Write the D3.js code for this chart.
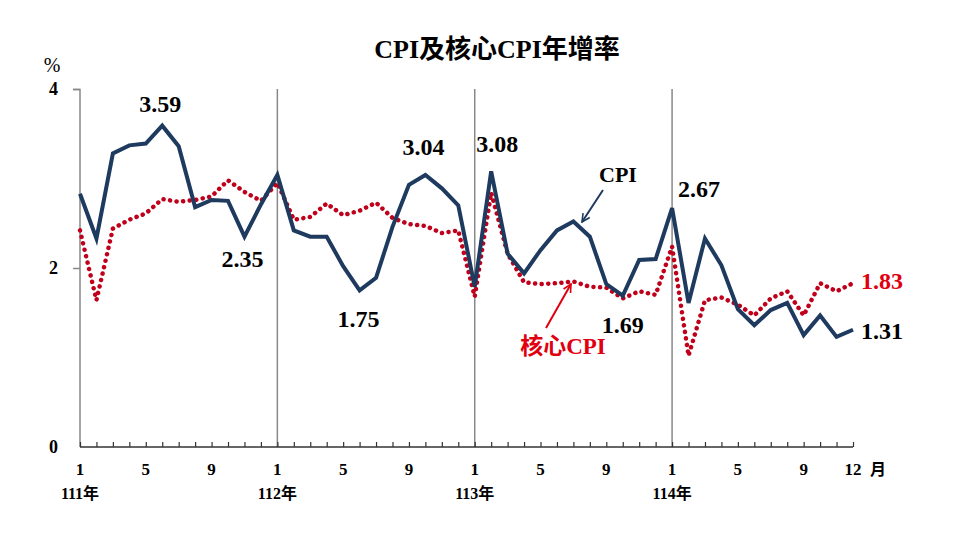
<!DOCTYPE html>
<html><head><meta charset="utf-8">
<script src="https://cdn.jsdelivr.net/npm/d3@7"></script>
<style>body{margin:0;background:#fff}</style>
</head><body>
<svg id="c" width="960" height="539"></svg>
<script>
const years = ["111年","112年","113年","114年"];
const monthTicks = [1,5,9];
const yTicks = [0,2,4];
const cpi = [2.83,2.33,3.28,3.37,3.39,3.59,3.36,2.68,2.76,2.75,2.35,2.71,
             3.04,2.42,2.35,2.35,2.02,1.75,1.89,2.46,2.93,3.04,2.89,2.70,
             1.79,3.08,2.16,1.94,2.20,2.42,2.52,2.35,1.82,1.69,2.09,2.10,
             2.67,1.61,2.33,2.03,1.54,1.36,1.53,1.61,1.25,1.47,1.23,1.31];
const core = [2.42,1.64,2.44,2.54,2.61,2.77,2.74,2.76,2.80,2.98,2.85,2.75,
              2.95,2.54,2.57,2.72,2.59,2.64,2.73,2.56,2.49,2.47,2.39,2.42,
              1.68,2.84,2.16,1.84,1.82,1.83,1.85,1.79,1.78,1.66,1.74,1.70,
              2.24,1.02,1.64,1.67,1.59,1.47,1.66,1.74,1.47,1.83,1.74,1.83];
const labels = [
  {i:5, v:"3.59", dx:-2, dy:-14},
  {i:10, v:"2.35", dx:-2, dy:30},
  {i:17, v:"1.75", dx:-1, dy:37},
  {i:21, v:"3.04", dx:-2, dy:-20},
  {i:25, v:"3.08", dx:6, dy:-19},
  {i:33, v:"1.69", dx:0, dy:37},
  {i:36, v:"2.67", dx:27, dy:-11}
];
const serif = "'Liberation Serif','Times New Roman','Noto Sans CJK TC',serif";
const svg = d3.select("#c");
const n = cpi.length;
const x = d3.scaleLinear().domain([0, n-1]).range([80, 853]);
const y = d3.scaleLinear().domain([0, 4]).range([447, 89]);

// title
svg.append("text").attr("x",497).attr("y",58).attr("text-anchor","middle")
  .attr("font-family",serif).attr("font-weight","bold").attr("font-size",26).text("CPI及核心CPI年增率");
svg.append("text").attr("x",52).attr("y",72).attr("text-anchor","middle")
  .attr("font-family",serif).attr("font-size",20).text("%");

// y axis
const ya = svg.append("g").attr("transform","translate(80,0)")
  .call(d3.axisLeft(y).tickValues(yTicks).tickSize(7).tickFormat(d3.format("d")));
ya.select(".domain").attr("stroke","#888").attr("stroke-width",1.5).attr("d","M-7,89.5H0V447");
ya.selectAll(".tick line").attr("stroke","#888").attr("stroke-width",1.5);
ya.selectAll(".tick").filter(d=>d===0).select("line").remove();
ya.selectAll(".tick text").attr("font-family",serif).attr("font-weight","bold").attr("font-size",18)
  .attr("fill","#000").attr("x",-22).attr("dy","0.33em");

// year separators
svg.selectAll(".yr").data([12,24,36]).join("line").attr("class","yr")
  .attr("x1",d=>x(d)).attr("x2",d=>x(d)).attr("y1",89).attr("y2",447)
  .attr("stroke","#888").attr("stroke-width",1.5);

// x axis
const xa = svg.append("g").attr("transform","translate(0,447)")
  .call(d3.axisTop(x).tickValues(d3.range(n)).tickSize(5).tickFormat(""));
xa.select(".domain").attr("stroke","#333").attr("stroke-width",1.5).attr("d","M80,0H853");
xa.selectAll(".tick line").attr("stroke","#333").attr("stroke-width",1.2);

const xl = svg.append("g");
const idxLabels = [];
years.forEach((yy,k)=>{ monthTicks.forEach(m=>idxLabels.push({i:k*12+m-1, t:String(m)})); });
idxLabels.push({i:n-1, t:"12"});
xl.selectAll(".ml").data(idxLabels).join("text").attr("class","ml")
  .attr("x",d=>x(d.i)).attr("y",475).attr("text-anchor","middle")
  .attr("font-family",serif).attr("font-weight","bold").attr("font-size",17).text(d=>d.t);
xl.selectAll(".yl").data(years).join("text").attr("class","yl")
  .attr("x",(d,k)=>x(k*12)).attr("y",499).attr("text-anchor","middle")
  .attr("font-family",serif).attr("font-weight","bold").attr("font-size",16).text(d=>d);
xl.append("text").attr("x",878).attr("y",475).attr("text-anchor","middle")
  .attr("font-family",serif).attr("font-weight","bold").attr("font-size",16).text("月");

// lines
const line = d3.line().x((d,i)=>x(i)).y(d=>y(d));
svg.append("path").datum(core).attr("d",line).attr("fill","none")
  .attr("stroke","#C0001A").attr("stroke-width",4.5).attr("stroke-linecap","round")
  .attr("stroke-dasharray","0.1 6.5");
svg.append("path").datum(cpi).attr("d",line).attr("fill","none")
  .attr("stroke","#1F3A5F").attr("stroke-width",4).attr("stroke-linejoin","miter");

// value labels
svg.selectAll(".vl").data(labels).join("text").attr("class","vl")
  .attr("x",d=>x(d.i)+d.dx).attr("y",d=>y(cpi[d.i])+d.dy).attr("text-anchor","middle")
  .attr("font-family",serif).attr("font-weight","bold").attr("font-size",24).attr("fill","#000").text(d=>d.v);
svg.append("text").attr("x",x(n-1)+8).attr("y",y(cpi[n-1])+9).attr("font-family",serif)
  .attr("font-weight","bold").attr("font-size",24).attr("fill","#000").text("1.31");
svg.append("text").attr("x",x(n-1)+8).attr("y",y(core[n-1])+6).attr("font-family",serif)
  .attr("font-weight","bold").attr("font-size",24).attr("fill","#E00010").text("1.83");

// annotations
svg.append("text").attr("x",618).attr("y",182).attr("text-anchor","middle").attr("font-family",serif)
  .attr("font-weight","bold").attr("font-size",22).attr("fill","#000").text("CPI");
svg.append("text").attr("x",563).attr("y",354).attr("text-anchor","middle").attr("font-family",serif)
  .attr("font-weight","bold").attr("font-size",23).attr("fill","#E00010").text("核心CPI");

const defs = svg.append("defs");
function marker(id,color){
  defs.append("marker").attr("id",id).attr("viewBox","0 0 10 10").attr("refX",9).attr("refY",5)
    .attr("markerWidth",5).attr("markerHeight",5).attr("orient","auto")
    .append("path").attr("d","M1,1L9,5L1,9").attr("fill","none").attr("stroke",color).attr("stroke-width",1.6);
}
marker("an","#1F3A5F"); marker("ar","#E00010");
svg.append("line").attr("x1",603).attr("y1",190).attr("x2",582).attr("y2",222)
  .attr("stroke","#1F3A5F").attr("stroke-width",2).attr("marker-end","url(#an)");
svg.append("line").attr("x1",546).attr("y1",328).attr("x2",571).attr("y2",284)
  .attr("stroke","#E00010").attr("stroke-width",2).attr("marker-end","url(#ar)");
</script>
</body></html>
